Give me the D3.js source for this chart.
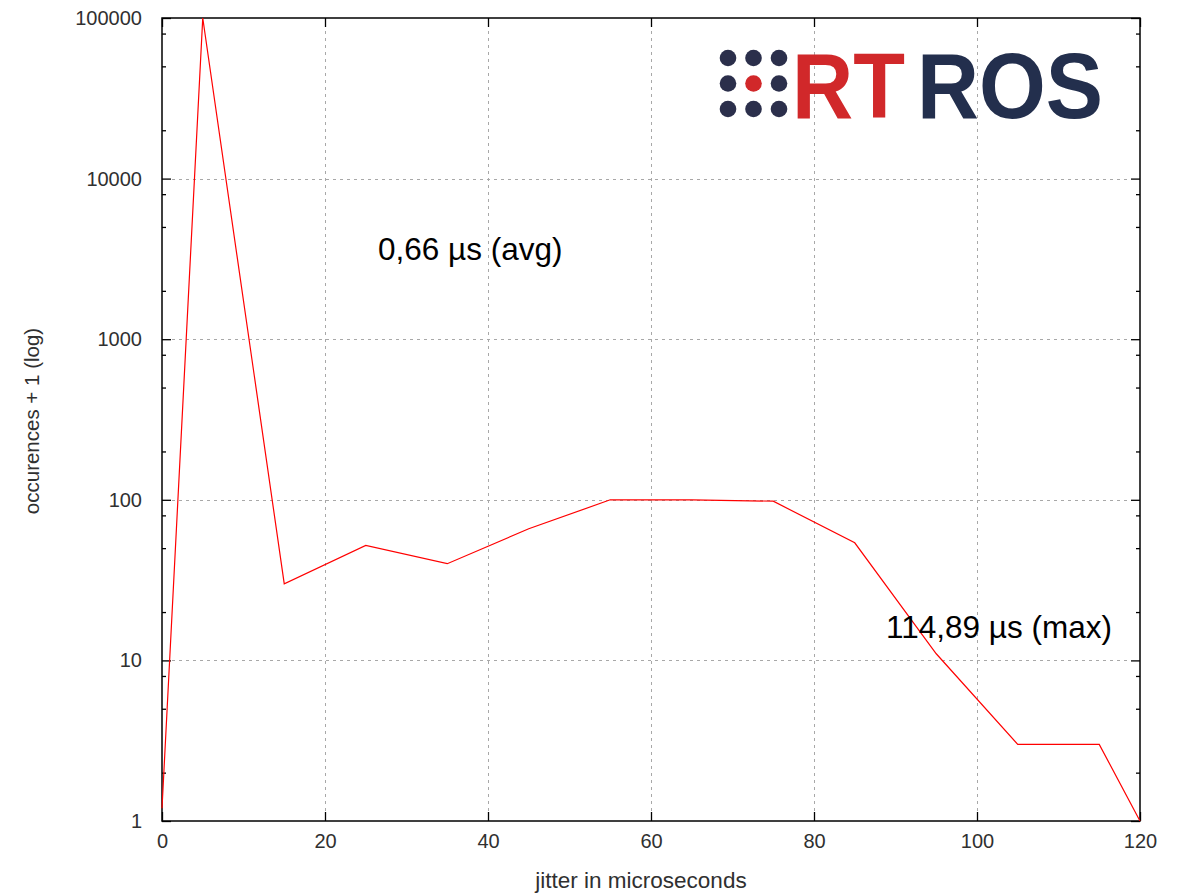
<!DOCTYPE html>
<html>
<head>
<meta charset="utf-8">
<script src="https://cdn.jsdelivr.net/npm/d3@7"></script>
<style>
  html, body { margin: 0; padding: 0; background: #fff; }
  svg { display: block; }
  text { font-family: "Liberation Sans", Arial, sans-serif; }
</style>
</head>
<body>
<svg id="chart" width="1183" height="893"></svg>
<script>
// Jitter histogram (bin centres in µs) and occurrences + 1 per bin
const jitter = [0, 5, 15, 25, 35, 45, 55, 65, 75, 85, 95, 105, 115, 120];
const occurrencesPlusOne = [1.2, 100000, 30, 52, 40, 66, 100, 100, 98, 54, 11, 3, 3, 1];

// Axis ticks
const xTicks = [0, 20, 40, 60, 80, 100, 120];
const yTicks = [1, 10, 100, 1000, 10000, 100000];
const yMinorFactors = [2, 5, 8];

// Annotations
const avgLabel = "0,66 µs (avg)";
const maxLabel = "114,89 µs (max)";
const xTitle = "jitter in microseconds";
const yTitle = "occurences + 1 (log)";

const svg = d3.select("#chart");
const plot = { left: 162, right: 1140, top: 18, bottom: 821 };

const x = d3.scaleLinear().domain([0, 120]).range([plot.left, plot.right]);
const y = d3.scaleLog().domain([1, 100000]).range([plot.bottom, plot.top]);

const yMinor = [];
yTicks.slice(0, -1).forEach(d => yMinorFactors.forEach(f => yMinor.push(d * f)));

// Grid
const grid = svg.append("g")
  .attr("stroke", "#a8a8a8")
  .attr("stroke-width", 1)
  .attr("stroke-dasharray", "3,4");
grid.selectAll("line.vx")
  .data(xTicks.filter(d => d > 0 && d < 120))
  .join("line")
  .attr("x1", d => Math.round(x(d)) + 0.5).attr("x2", d => Math.round(x(d)) + 0.5)
  .attr("y1", plot.bottom - 10).attr("y2", plot.top + 10);
grid.selectAll("line.hy")
  .data(yTicks.filter(d => d > 1 && d < 100000))
  .join("line")
  .attr("y1", d => Math.round(y(d)) + 0.5).attr("y2", d => Math.round(y(d)) + 0.5)
  .attr("x1", plot.left + 10).attr("x2", plot.right - 10);

// Axes
function styleAxis(g) {
  g.select(".domain").remove();
  g.selectAll(".tick line").attr("stroke", "#000").attr("stroke-width", 1.3);
  g.selectAll(".tick text")
    .attr("fill", "#303030")
    .style("font-size", "20px")
    .style("font-family", "'Liberation Sans', Arial, sans-serif");
}

svg.append("g")
  .attr("transform", `translate(0,${plot.bottom})`)
  .call(d3.axisBottom(x).tickValues(xTicks).tickFormat(d3.format("d"))
    .tickSizeInner(-9).tickSizeOuter(0).tickPadding(13))
  .call(styleAxis);
svg.append("g")
  .attr("transform", `translate(0,${plot.top})`)
  .call(d3.axisTop(x).tickValues(xTicks).tickFormat("")
    .tickSizeInner(-9).tickSizeOuter(0))
  .call(styleAxis);

svg.append("g")
  .attr("transform", `translate(${plot.left},0)`)
  .call(d3.axisLeft(y).tickValues(yTicks).tickFormat(d3.format("d"))
    .tickSizeInner(-9).tickSizeOuter(0).tickPadding(20))
  .call(styleAxis);
svg.append("g")
  .attr("transform", `translate(${plot.left},0)`)
  .call(d3.axisLeft(y).tickValues(yMinor).tickFormat("")
    .tickSizeInner(-4).tickSizeOuter(0))
  .call(styleAxis);
svg.append("g")
  .attr("transform", `translate(${plot.right},0)`)
  .call(d3.axisRight(y).tickValues(yTicks).tickFormat("")
    .tickSizeInner(-9).tickSizeOuter(0))
  .call(styleAxis);
svg.append("g")
  .attr("transform", `translate(${plot.right},0)`)
  .call(d3.axisRight(y).tickValues(yMinor).tickFormat("")
    .tickSizeInner(-4).tickSizeOuter(0))
  .call(styleAxis);

// Frame
svg.append("rect")
  .attr("x", plot.left).attr("y", plot.top)
  .attr("width", plot.right - plot.left).attr("height", plot.bottom - plot.top)
  .attr("fill", "none").attr("stroke", "#000").attr("stroke-width", 1.5);

// Data line
const series = jitter.map((d, i) => [d, occurrencesPlusOne[i]]);
svg.append("path")
  .datum(series)
  .attr("fill", "none")
  .attr("stroke", "#ff0000")
  .attr("stroke-width", 1.2)
  .attr("d", d3.line().x(d => x(d[0])).y(d => y(d[1])));

// Axis titles
svg.append("text")
  .attr("x", 641).attr("y", 888)
  .attr("text-anchor", "middle")
  .attr("fill", "#303030")
  .style("font-size", "22.5px")
  .text(xTitle);
svg.append("text")
  .attr("transform", "translate(39,421) rotate(-90)")
  .attr("text-anchor", "middle")
  .attr("fill", "#303030")
  .style("font-size", "20.5px")
  .text(yTitle);

// Value annotations
svg.append("text")
  .attr("x", 378).attr("y", 260)
  .attr("fill", "#000")
  .style("font-size", "31.5px")
  .text(avgLabel);
svg.append("text")
  .attr("x", 886).attr("y", 638)
  .attr("fill", "#000")
  .style("font-size", "31.5px")
  .text(maxLabel);

// RTROS logo
const logo = svg.append("g");
const navy = "#232f4d", red = "#d1282a";
const dotX = [728, 753.5, 779], dotY = [58, 83.5, 109];
dotY.forEach((cy, r) => dotX.forEach((cx, c) => {
  logo.append("circle")
    .attr("cx", cx).attr("cy", cy).attr("r", 8.3)
    .attr("fill", (r === 1 && c === 1) ? red : "#2b2f4b");
}));
logo.append("text")
  .attr("x", 792).attr("y", 117.5)
  .attr("fill", red)
  .attr("textLength", 113).attr("lengthAdjust", "spacingAndGlyphs")
  .style("font-size", "93px").style("font-weight", "bold")
  .text("RT");
logo.append("text")
  .attr("x", 917).attr("y", 117.5)
  .attr("fill", navy)
  .attr("textLength", 186).attr("lengthAdjust", "spacingAndGlyphs")
  .style("font-size", "93px").style("font-weight", "bold")
  .text("ROS");
</script>
</body>
</html>
